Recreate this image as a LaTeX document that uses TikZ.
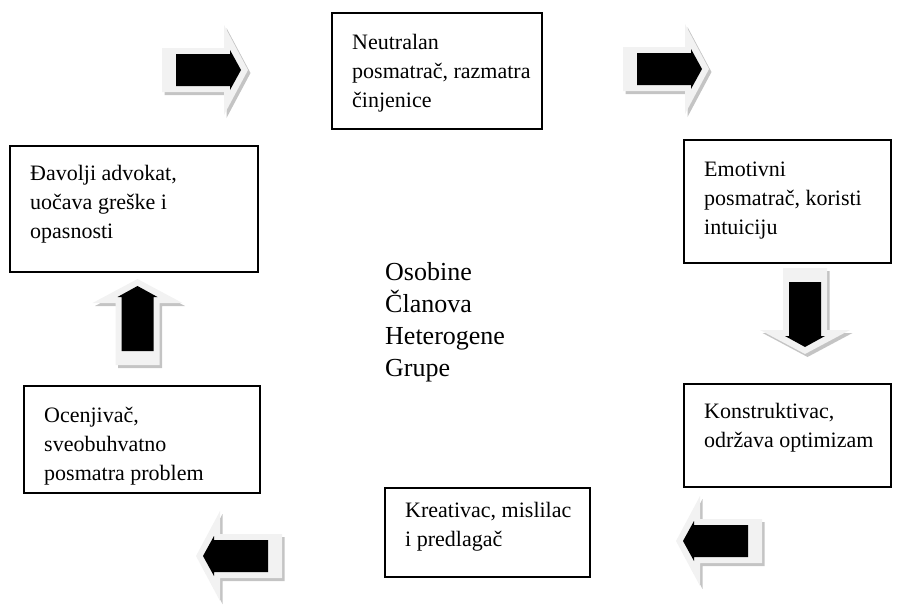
\documentclass[tikz,border=0pt]{standalone}
\usepackage{fontspec}
\setmainfont{Liberation Serif}
\definecolor{arrowlight}{HTML}{F2F2F2}
\definecolor{arrowshadow}{HTML}{C4C4C4}
\begin{document}
\begin{tikzpicture}[x=1pt,y=1pt,
  box/.style={draw=black, line width=1.5pt, anchor=north west, inner sep=0pt},
  lbl/.style={anchor=north west, inner sep=0pt, align=left, font=\fontsize{22}{29}\selectfont},
  ctr/.style={anchor=north west, inner sep=0pt, align=left, font=\fontsize{26}{32}\selectfont},
  pics/bigarrow/.style={code={
    \begin{scope}[shift={(2.5pt,-3pt)}, rotate=#1]
      \fill[arrowshadow] (0,-22)--(62,-22)--(62,-45)--(86,0)--(62,45)--(62,22)--(0,22)--cycle;
    \end{scope}
    \begin{scope}[rotate=#1]
      \fill[arrowlight] (0,-22)--(62,-22)--(62,-45)--(86,0)--(62,45)--(62,22)--(0,22)--cycle;
      \fill[black] (14,-16)--(68,-16)--(68,-20)--(79,0)--(68,20)--(68,16)--(14,16)--cycle;
    \end{scope}
  }}]
\useasboundingbox (0,0) rectangle (921,-605);

% boxes
\node[box, minimum width=210pt, minimum height=116pt] (b1) at (331,-12) {};
\node[box, minimum width=207pt, minimum height=123pt] (b2) at (683,-139) {};
\node[box, minimum width=207pt, minimum height=103pt] (b3) at (683,-383) {};
\node[box, minimum width=205pt, minimum height=89pt]  (b4) at (384,-487) {};
\node[box, minimum width=236pt, minimum height=107pt] (b5) at (23,-385) {};
\node[box, minimum width=248pt, minimum height=126pt] (b6) at (9,-145) {};

% texts
\node[lbl] (t1) at ([shift={(21pt,-17pt)}]b1.north west) {\strut Neutralan\\posmatrač, razmatra\\činjenice};
\node[lbl] (t2) at ([shift={(21pt,-17pt)}]b2.north west) {\strut Emotivni\\posmatrač, koristi\\intuiciju};
\node[lbl] (t3) at ([shift={(21pt,-15pt)}]b3.north west) {\strut Konstruktivac,\\održava optimizam};
\node[lbl] (t4) at ([shift={(21pt,-10pt)}]b4.north west) {\strut Kreativac, mislilac\\i predlagač};
\node[lbl] (t5) at ([shift={(21pt,-17pt)}]b5.north west) {\strut Ocenjivač,\\sveobuhvatno\\posmatra problem};
\node[lbl] (t6) at ([shift={(21pt,-15pt)}]b6.north west) {\strut Đavolji advokat,\\uočava greške i\\opasnosti};

\node[ctr] (c) at (385,-258) {\strut Osobine\\Članova\\Heterogene\\Grupe};

% arrows
\pic (a1) at (162,-70) {bigarrow=0};
\pic (a2) at (623,-69) {bigarrow=0};
\pic (a3) at (805,-268) {bigarrow=-90};
\pic (a4) at (762,-541) {bigarrow=180};
\pic (a5) at (282,-556) {bigarrow=180};
\pic (a6) at (137.5,-365) {bigarrow=90};
\end{tikzpicture}
\end{document}
